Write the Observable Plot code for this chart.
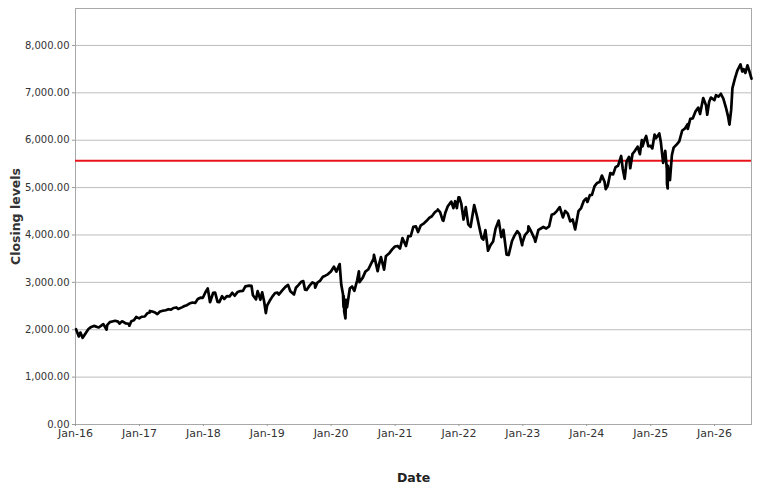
<!DOCTYPE html>
<html>
<head>
<meta charset="utf-8">
<script src="https://cdn.jsdelivr.net/npm/d3@7"></script>
<script src="https://cdn.jsdelivr.net/npm/@observablehq/plot@0.6"></script>
<style>
html,body{margin:0;padding:0;background:#fff;}
</style>
</head>
<body>
<div id="chart"></div>
<script>
const dates = [
"2016-01-04","2016-01-20","2016-01-29","2016-02-11","2016-02-29","2016-03-15","2016-03-31","2016-04-15","2016-04-29","2016-05-13","2016-05-31","2016-06-08","2016-06-27","2016-06-30","2016-07-15","2016-07-29","2016-08-15","2016-08-31","2016-09-09","2016-09-22","2016-09-30","2016-10-14","2016-10-31","2016-11-04","2016-11-15","2016-11-30","2016-12-13","2016-12-30",
"2017-01-13","2017-01-31","2017-02-15","2017-02-28","2017-03-01","2017-03-15","2017-03-31","2017-04-13","2017-04-28","2017-05-15","2017-05-31","2017-06-15","2017-06-30","2017-07-14","2017-07-31","2017-08-10","2017-08-31","2017-09-15","2017-09-29","2017-10-13","2017-10-31","2017-11-15","2017-11-30","2017-12-15","2017-12-29",
"2018-01-12","2018-01-26","2018-02-08","2018-02-26","2018-03-09","2018-03-23","2018-04-02","2018-04-18","2018-04-30","2018-05-15","2018-05-31","2018-06-15","2018-06-29","2018-07-16","2018-07-31","2018-08-15","2018-08-29","2018-09-20","2018-10-03","2018-10-11","2018-10-29","2018-11-07","2018-11-23","2018-12-03","2018-12-14","2018-12-24","2018-12-31",
"2019-01-15","2019-01-31","2019-02-15","2019-02-28","2019-03-08","2019-03-29","2019-04-15","2019-04-30","2019-05-13","2019-05-31","2019-06-03","2019-06-14","2019-06-28","2019-07-15","2019-07-26","2019-08-05","2019-08-14","2019-08-30","2019-09-16","2019-09-30","2019-10-02","2019-10-15","2019-10-31","2019-11-15","2019-11-29","2019-12-13","2019-12-31",
"2020-01-17","2020-01-31","2020-02-19","2020-02-28","2020-03-09","2020-03-12","2020-03-13","2020-03-16","2020-03-23","2020-03-26","2020-04-01","2020-04-17","2020-04-30","2020-05-13","2020-05-29","2020-06-08","2020-06-11","2020-06-30","2020-07-15","2020-07-31","2020-08-14","2020-08-31","2020-09-02","2020-09-23","2020-09-30","2020-10-12","2020-10-30","2020-11-09","2020-11-30","2020-12-15","2020-12-31",
"2021-01-15","2021-01-29","2021-02-12","2021-03-04","2021-03-17","2021-03-31","2021-04-15","2021-04-30","2021-05-12","2021-05-28","2021-06-15","2021-06-30","2021-07-15","2021-07-30","2021-08-16","2021-08-31","2021-09-02","2021-09-15","2021-09-30","2021-10-04","2021-10-15","2021-10-29","2021-11-18","2021-11-30","2021-12-10","2021-12-20","2021-12-29",
"2022-01-03","2022-01-14","2022-01-27","2022-02-09","2022-02-23","2022-03-08","2022-03-29","2022-04-14","2022-04-29","2022-05-11","2022-05-20","2022-06-01","2022-06-16","2022-06-30","2022-07-15","2022-07-29","2022-08-16","2022-08-31","2022-09-12","2022-09-30","2022-10-12","2022-10-31","2022-11-15","2022-11-30","2022-12-13","2022-12-28","2022-12-30",
"2023-01-13","2023-01-31","2023-02-02","2023-02-17","2023-03-09","2023-03-13","2023-03-31","2023-04-14","2023-04-28","2023-05-15","2023-05-31","2023-06-15","2023-06-30","2023-07-14","2023-07-31","2023-08-18","2023-08-31","2023-09-15","2023-09-29","2023-10-13","2023-10-27","2023-11-15","2023-11-30","2023-12-15","2023-12-29",
"2024-01-05","2024-01-19","2024-01-31","2024-02-15","2024-02-29","2024-03-15","2024-03-28","2024-04-12","2024-04-19","2024-04-30","2024-05-15","2024-05-31","2024-06-14","2024-06-28","2024-07-16","2024-07-25","2024-08-05","2024-08-16","2024-08-30","2024-09-06","2024-09-19","2024-09-30","2024-10-18","2024-10-31","2024-11-11","2024-11-15","2024-11-29","2024-12-06","2024-12-18","2024-12-31",
"2025-01-10","2025-01-23","2025-01-31","2025-02-19","2025-02-28","2025-03-10","2025-03-13","2025-03-25","2025-04-03","2025-04-04","2025-04-08","2025-04-09","2025-04-21","2025-05-02","2025-05-12","2025-05-30","2025-06-13","2025-06-30","2025-07-15","2025-07-31","2025-08-01","2025-08-15","2025-08-29","2025-09-15","2025-09-30","2025-10-10","2025-10-28","2025-11-13","2025-11-20","2025-12-01","2025-12-11","2025-12-31",
"2026-01-09","2026-01-23","2026-02-06","2026-02-20","2026-03-06","2026-03-18","2026-03-27","2026-04-06","2026-04-13","2026-04-27","2026-05-11","2026-05-29","2026-06-08","2026-06-16","2026-06-26","2026-07-08","2026-07-17","2026-07-31"
];
const closes = [
2012,1859,1940,1829,1932,2015,2060,2081,2065,2047,2097,2119,2001,2099,2162,2174,2190,2171,2128,2177,2168,2133,2126,2085,2180,2199,2271,2239,
2274,2279,2349,2364,2396,2385,2363,2329,2384,2402,2412,2433,2423,2459,2470,2438,2472,2500,2519,2553,2575,2564,2648,2676,2674,
2786,2873,2581,2780,2786,2588,2582,2708,2648,2711,2705,2780,2718,2798,2816,2818,2914,2931,2926,2728,2641,2814,2633,2790,2600,2351,2507,
2610,2704,2776,2784,2743,2834,2906,2946,2812,2752,2744,2887,2942,3014,3026,2845,2840,2926,2998,2977,2887,2996,3038,3120,3141,3169,3231,
3330,3226,3386,2954,2747,2481,2711,2386,2237,2630,2471,2875,2912,2820,3044,3232,3002,3100,3227,3271,3373,3500,3580,3237,3363,3535,3270,3550,3622,3695,3756,
3768,3714,3934,3768,3974,3973,4170,4181,4063,4204,4246,4298,4360,4395,4479,4523,4537,4481,4308,4300,4471,4605,4704,4567,4712,4568,4793,
4796,4663,4326,4587,4225,4170,4632,4393,4132,3935,3901,4101,3667,3785,3863,4130,4305,3955,4110,3586,3577,3872,3992,4080,4019,3783,3840,
3999,4077,4180,4079,3919,3856,4109,4137,4169,4136,4180,4426,4450,4505,4589,4370,4508,4450,4288,4327,4117,4503,4568,4719,4770,
4697,4840,4846,5030,5096,5117,5254,5123,4967,5036,5308,5278,5432,5460,5667,5399,5186,5554,5648,5408,5713,5762,5865,5705,6001,5870,6032,6090,5872,5882,
5827,6119,6041,6144,5955,5615,5522,5777,5396,5074,4982,5457,5158,5687,5844,5912,5977,6205,6244,6339,6238,6450,6460,6615,6688,6553,6891,6737,6538,6812,6901,6845,
6950,6920,6980,6880,6700,6520,6330,6650,7100,7300,7470,7600,7450,7500,7420,7580,7480,7300
];
const refLevel = [5565];
const yTicks = [0,1000,2000,3000,4000,5000,6000,7000,8000];
const xTickYears = ["2016","2017","2018","2019","2020","2021","2022","2023","2024","2025","2026"];
const xDomain = ["2016-01-01","2026-07-31"];
const yMax = 8780;

const parse = d3.utcParse("%Y-%m-%d");
const data = dates.map((d,i)=>({date: parse(d), close: closes[i]}));
const xTicks = xTickYears.map(y => parse(y + "-01-01"));

const chart = Plot.plot({
  width: 769,
  height: 489,
  marginLeft: 75,
  marginRight: 18,
  marginTop: 8,
  marginBottom: 65,
  style: {fontFamily: "DejaVu Sans", fontSize: "10px", color: "#333", background: "#fff"},
  x: {type: "utc", domain: xDomain.map(parse)},
  y: {domain: [0, yMax]},
  marks: [
    Plot.gridY(yTicks, {stroke: "#bdbdbd", strokeOpacity: 1}),
    Plot.frame({stroke: "#a8a8a8"}),
    Plot.ruleY(refLevel, {stroke: "#e8141c", strokeWidth: 2}),
    Plot.line(data, {x: "date", y: "close", stroke: "#000", strokeWidth: 2.7}),
    Plot.axisY(yTicks, {tickFormat: d3.format(",.2f"), tickSize: 3, tickPadding: 3, label: null, stroke: "#999"}),
    Plot.axisX(xTicks, {tickFormat: d3.utcFormat("%b-%y"), tickSize: 2, tickPadding: 3, label: null, fontSize: 11, stroke: "#999"}),
    Plot.text(["Closing levels"], {frameAnchor: "left", dx: -60, rotate: -90, textAnchor: "middle", lineAnchor: "middle", fontWeight: "bold", fontSize: 12.5, fill: "#333"}),
    Plot.text(["Date"], {frameAnchor: "bottom", dy: 57, fontWeight: "bold", fontSize: 12.5, fill: "#222"})
  ]
});
document.getElementById("chart").appendChild(chart);
</script>
</body>
</html>
